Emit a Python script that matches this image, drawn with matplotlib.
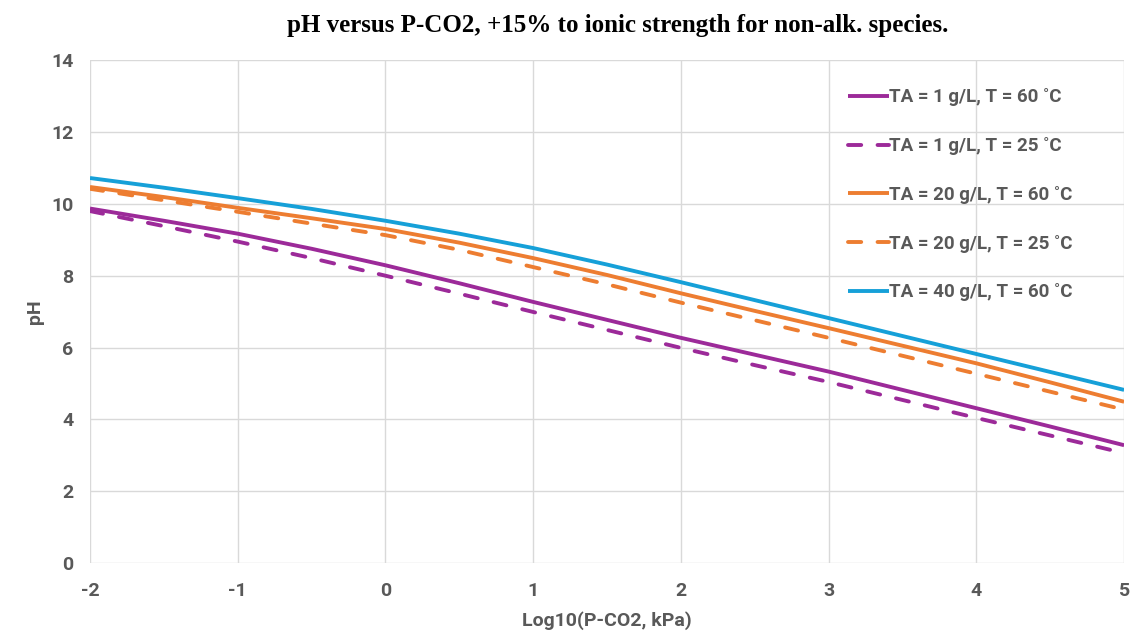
import numpy as np
import matplotlib
matplotlib.use("Agg")
import matplotlib.pyplot as plt

plt.rcParams["axes.unicode_minus"] = False

# log10 of CO2 partial pressure (kPa)
log_pco2 = [-2, -1.5, -1, -0.5, 0, 0.5, 1, 1.5, 2, 2.5, 3, 3.5, 4, 4.5, 5]

ph_ta1_t60 = [9.87, 9.53, 9.17, 8.75, 8.29, 7.79, 7.27, 6.77, 6.27, 5.80, 5.33, 4.82, 4.31, 3.80, 3.28]
ph_ta1_t25 = [9.80, 9.38, 8.95, 8.49, 8.00, 7.50, 6.99, 6.49, 5.99, 5.51, 5.04, 4.54, 4.04, 3.55, 3.06]
ph_ta20_t60 = [10.47, 10.19, 9.89, 9.60, 9.30, 8.92, 8.49, 8.02, 7.51, 7.02, 6.54, 6.05, 5.56, 5.03, 4.49]
ph_ta20_t25 = [10.42, 10.10, 9.78, 9.45, 9.13, 8.72, 8.24, 7.76, 7.25, 6.76, 6.27, 5.77, 5.27, 4.77, 4.27]
ph_ta40_t60 = [10.72, 10.45, 10.16, 9.86, 9.53, 9.17, 8.77, 8.31, 7.82, 7.32, 6.82, 6.32, 5.82, 5.32, 4.82]

labels = [
    "TA = 1 g/L, T = 60 ˚C",
    "TA = 1 g/L, T = 25 ˚C",
    "TA = 20 g/L, T = 60 ˚C",
    "TA = 20 g/L, T = 25 ˚C",
    "TA = 40 g/L, T = 60 ˚C",
]

purple = "#9C2A99"
orange = "#ED7D31"
blue = "#16A0D8"
text_grey = "#595959"
grid_grey = "#D9D9D9"

label_font = ["Roboto", "DejaVu Sans"]

fig = plt.figure(figsize=(11.32, 6.34), dpi=100)
ax = fig.add_axes([0.0795, 0.112, 0.9135, 0.793])

series = [
    (ph_ta1_t60, purple, "-"),
    (ph_ta1_t25, purple, "--"),
    (ph_ta20_t60, orange, "-"),
    (ph_ta20_t25, orange, "--"),
    (ph_ta40_t60, blue, "-"),
]

for (vals, col, ls), lab in zip(series, labels):
    line, = ax.plot(log_pco2, vals, color=col, lw=2.8, label=lab,
                    solid_capstyle="butt")
    if ls == "--":
        line.set_dashes((3.4, 4.2))
        line.set_dash_capstyle("round")

ax.set_xlim(-2, 5)
ax.set_ylim(0, 14)
ax.set_xticks(range(-2, 6))
ax.set_yticks(range(0, 15, 2))
ax.grid(True, color=grid_grey, lw=1)
ax.set_axisbelow(True)
for s in ax.spines.values():
    s.set_visible(False)
ax.tick_params(length=0, labelsize=14, colors=text_grey)
ax.tick_params(axis="x", pad=14)
ax.tick_params(axis="y", pad=12)
for t in ax.get_xticklabels() + ax.get_yticklabels():
    t.set_family(label_font)
    t.set_fontweight("bold")

ax.set_xlabel("Log10(P-CO2, kPa)", fontsize=14, fontweight="bold",
              color=text_grey, family=label_font, labelpad=8)
ax.set_ylabel("pH", fontsize=14, fontweight="bold", color=text_grey,
              family=label_font, labelpad=5)

fig.suptitle("pH versus P-CO2, +15% to ionic strength for non-alk. species.",
             x=0.546, y=0.978, fontsize=18, fontweight="bold",
             family=["Liberation Serif", "DejaVu Serif"])

leg = ax.legend(loc="upper left", bbox_to_anchor=(0.733, 0.944),
                frameon=False, handlelength=2.2, handletextpad=0.0,
                labelspacing=1.64, borderaxespad=0, borderpad=0,
                prop={"family": label_font, "weight": "bold", "size": 13.5})
for t in leg.get_texts():
    t.set_color(text_grey)

fig.savefig("out.png", dpi=100, facecolor="white")
